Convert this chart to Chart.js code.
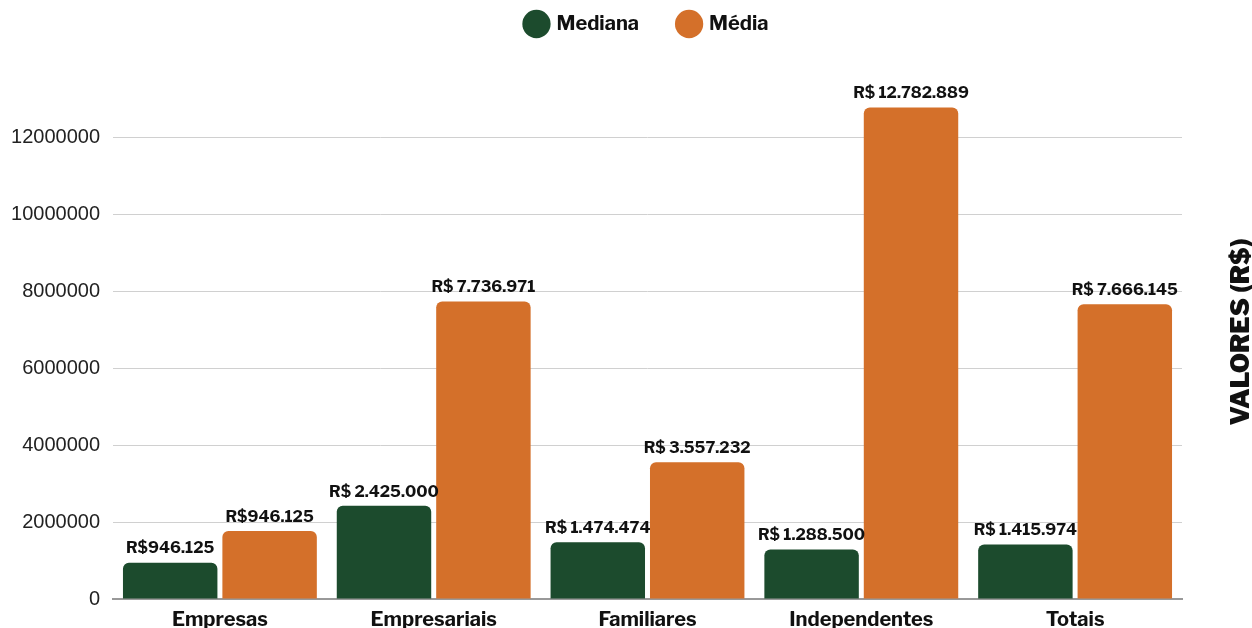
<!DOCTYPE html>
<html>
<head>
<meta charset="utf-8">
<script src="https://cdn.jsdelivr.net/npm/chart.js@4"></script>
<style>
    html, body { margin: 0; padding: 0; background: #fff; }
    #wrap { width: 1252px; height: 628px; }
</style>
</head>
<body>
<div id="wrap"><canvas id="barChart"></canvas></div>
<script>
const categories = ["Empresas", "Empresariais", "Familiares", "Independentes", "Totais"];
const medianaValues = [946125, 2425000, 1474474, 1288500, 1415974];
const mediaValues = [1770000, 7736971, 3557232, 12782889, 7666145];
const medianaLabels = ["R$946.125", "R$ 2.425.000", "R$ 1.474.474", "R$ 1.288.500", "R$ 1.415.974"];
const mediaLabels = ["R$946.125", "R$ 7.736.971", "R$ 3.557.232", "R$ 12.782.889", "R$ 7.666.145"];
const yTicks = [0, 2000000, 4000000, 6000000, 8000000, 10000000, 12000000];

const green = "#1c4b2d";
const orange = "#d4702a";
const fontName = "'Libre Franklin', Inter, 'Liberation Sans', sans-serif";

// labels above each bar
const barLabels = {
    id: "barLabels",
    afterDatasetsDraw(chart) {
        const ctx = chart.ctx;
        const texts = [medianaLabels, mediaLabels];
        ctx.save();
        ctx.font = "bold 16px " + fontName;
        ctx.fillStyle = "#111";
        ctx.textAlign = "center";
        ctx.textBaseline = "bottom";
        chart.data.datasets.forEach((ds, i) => {
            chart.getDatasetMeta(i).data.forEach((bar, j) => {
                ctx.fillText(texts[i][j], bar.x, bar.y - 6);
            });
        });
        ctx.restore();
    }
};

// rotated title on the right side
const rightTitle = {
    id: "rightTitle",
    afterDraw(chart) {
        const ctx = chart.ctx;
        ctx.save();
        ctx.translate(1241, 332);
        ctx.rotate(-Math.PI / 2);
        ctx.font = "900 26px " + fontName;
        ctx.fillStyle = "#111";
        ctx.textAlign = "center";
        ctx.textBaseline = "middle";
        ctx.fillText("VALORES (R$)", 0, 0);
        ctx.restore();
    }
};

// make room under the legend
const legendGap = {
    id: "legendGap",
    beforeInit(chart) {
        const fit = chart.legend.fit;
        chart.legend.fit = function () {
            fit.bind(chart.legend)();
            this.height = 106;
        };
    }
};

const ctx = document.getElementById("barChart").getContext("2d");
new Chart(ctx, {
    type: "bar",
    data: {
        labels: categories,
        datasets: [
            {
                label: "Mediana",
                data: medianaValues,
                backgroundColor: green,
                borderRadius: 6,
                borderSkipped: "bottom",
                categoryPercentage: 0.93,
                barPercentage: 0.95
            },
            {
                label: "Média",
                data: mediaValues,
                backgroundColor: orange,
                borderRadius: 6,
                borderSkipped: "bottom",
                categoryPercentage: 0.93,
                barPercentage: 0.95
            }
        ]
    },
    options: {
        responsive: true,
        maintainAspectRatio: false,
        animation: false,
        layout: { padding: { top: -26, right: 70, left: 0, bottom: 0 } },
        plugins: {
            legend: {
                position: "top",
                fullSize: false,
                labels: {
                    usePointStyle: true,
                    pointStyle: "circle",
                    boxWidth: 20,
                    boxHeight: 20,
                    padding: 40,
                    color: "#111",
                    font: { family: fontName, size: 20, weight: "bold" }
                }
            },
            tooltip: { enabled: false }
        },
        scales: {
            x: {
                grid: { display: false },
                border: { color: "#999", width: 2 },
                ticks: {
                    color: "#111",
                    padding: 1,
                    font: { family: fontName, size: 20, weight: "bold" }
                },
                afterFit(scale) { scale.height = 29; }
            },
            y: {
                min: 0,
                max: 13500000,
                border: { display: false },
                grid: { color: "#d0d0d0", drawTicks: false },
                afterBuildTicks(scale) {
                    scale.ticks = yTicks.map(v => ({ value: v }));
                },
                ticks: {
                    color: "#222",
                    padding: 13,
                    font: { family: "'Liberation Sans', Arial, sans-serif", size: 20 },
                    callback: v => String(v)
                },
                afterFit(scale) { scale.width = 113; }
            }
        }
    },
    plugins: [barLabels, rightTitle, legendGap]
});
</script>
</body>
</html>
